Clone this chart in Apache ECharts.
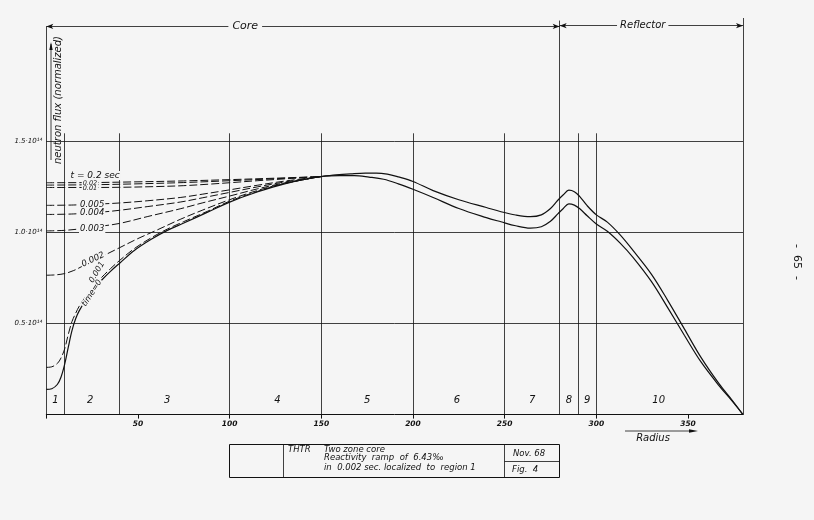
<!DOCTYPE html>
<html>
<head>
<meta charset="utf-8">
<script src="https://cdn.jsdelivr.net/npm/echarts@6/dist/echarts.min.js"></script>
<style>
  html, body { margin: 0; padding: 0; background: #f5f5f5; }
  #chart { width: 814px; height: 520px; }
</style>
</head>
<body>
<div id="chart"></div>
<script>
// radius in cm, flux in units of 10^14 (normalized)
const fluxTime0 = [[0,0.138],[3,0.142],[6,0.165],[8,0.205],[10,0.275],[12,0.37],[14,0.46],[16,0.525],[18,0.57],[22,0.635],[26,0.69],[30,0.735],[35,0.785],[40,0.83],[48,0.9],[57,0.96],[66,1.01],[75,1.05],[88,1.11],[100,1.165],[115,1.22],[130,1.265],[150,1.305],[160,1.31],[168,1.31],[176,1.302],[184,1.29],[192,1.265],[200,1.235],[211,1.19],[225,1.13],[240,1.08],[248,1.057],[256,1.035],[264,1.022],[270,1.03],[275,1.06],[279,1.1],[282,1.13],[285,1.155],[288,1.148],[291,1.128],[295,1.09],[300,1.045],[306,1.005],[313,0.94],[320,0.862],[330,0.73],[339,0.585],[348,0.435],[357,0.29],[367,0.158],[374,0.075],[380,0]];
const fluxUpper = [[150,1.305],[158,1.314],[166,1.32],[174,1.324],[180,1.324],[186,1.318],[192,1.303],[200,1.278],[211,1.228],[225,1.178],[240,1.135],[248,1.112],[256,1.094],[264,1.085],[270,1.095],[275,1.13],[279,1.175],[282,1.205],[285,1.23],[288,1.222],[291,1.195],[295,1.145],[300,1.095],[306,1.055],[313,0.985],[320,0.9],[330,0.77],[339,0.625],[348,0.47],[357,0.315],[367,0.168],[374,0.08],[380,0]];
const flux0001 = [[0,0.259],[3,0.262],[6,0.28],[8,0.31],[10,0.36],[12,0.44],[14,0.51],[16,0.555],[18,0.595],[22,0.655],[26,0.705],[30,0.75],[35,0.8],[40,0.845],[48,0.91],[57,0.968],[66,1.017],[75,1.058],[88,1.115],[100,1.17],[115,1.223],[130,1.267],[150,1.305]];
const flux0002 = [[0,0.764],[5,0.766],[10,0.773],[15,0.79],[20,0.815],[30,0.865],[40,0.915],[50,0.965],[60,1.01],[73,1.07],[85,1.12],[100,1.178],[115,1.228],[130,1.268],[150,1.305]];
const flux0003 = [[0,1.007],[10,1.01],[20,1.02],[30,1.033],[40,1.048],[55,1.085],[73,1.128],[85,1.16],[100,1.198],[115,1.237],[130,1.27],[150,1.305]];
const flux0004 = [[0,1.097],[15,1.1],[30,1.11],[40,1.12],[55,1.14],[73,1.165],[85,1.188],[100,1.218],[115,1.248],[130,1.275],[150,1.305]];
const flux0005 = [[0,1.147],[15,1.149],[30,1.155],[40,1.16],[55,1.172],[73,1.19],[85,1.208],[100,1.232],[115,1.257],[130,1.28],[150,1.305]];
const flux001 = [[0,1.245],[20,1.245],[40,1.246],[60,1.25],[75,1.255],[90,1.264],[100,1.271],[115,1.282],[130,1.292],[150,1.305]];
const flux002 = [[0,1.258],[25,1.26],[50,1.265],[75,1.272],[100,1.282],[125,1.293],[150,1.305]];
const flux02 = [[0,1.271],[25,1.272],[50,1.276],[75,1.281],[100,1.288],[125,1.296],[150,1.305]];

const regionEdges = [10, 40, 100, 150, 200, 250, 280, 290, 300];
const regionNames = ['1','2','3','4','5','6','7','8','9','10'];
const regionMid = [5, 24, 66, 126, 175, 224, 265, 285, 295, 334];
const fluxGrid = [0.5, 1.0, 1.5];
const coreEnd = 280, reflectorEnd = 380;

const curveTags = ['t = 0.2 sec', '0.02', '0.01', '0.005', '0.004', '0.003', '0.002', '0.001', 'time=0'];

// placement of the hand-lettered annotations (data units)
const tagAt = [[26.6,1.31],[23.8,1.266],[23.8,1.24],[25,1.148],[25,1.104],[25,1.019],[25.5,0.85],[27.6,0.78],[24.9,0.666]];
const tagTilt = [0, 0, 0, 0, 0, 0, 25, 60, 57];
const tagSize = [9, 6.5, 6.5, 8.5, 8.5, 8.5, 8.5, 8, 8];

const INK = '#111';
const BG = '#f5f5f5';
const FONT = '"DejaVu Sans", sans-serif';
const yTop = 2.174;
const dimY = 2.128;

function curve(name, data, dashed, width) {
  return {
    name, type: 'line', data, symbol: 'none', smooth: 0.35, silent: true, z: 3,
    lineStyle: { color: INK, width: width || 1, type: dashed ? [8, 3] : 'solid' }
  };
}

const frameLines = [];
fluxGrid.forEach(v => frameLines.push([{ coord: [0, v] }, { coord: [reflectorEnd, v] }]));
regionEdges.forEach(e => frameLines.push([{ coord: [e, 0] }, { coord: [e, e === coreEnd ? 2.16 : 1.542] }]));
frameLines.push([{ coord: [0, 0] }, { coord: [0, dimY] }]);
frameLines.push([{ coord: [reflectorEnd, 0] }, { coord: [reflectorEnd, yTop] }]);
frameLines.push([{ coord: [0, dimY], symbol: 'arrow' }, { coord: [coreEnd, dimY], symbol: 'arrow' }]);
frameLines.push([{ coord: [coreEnd, dimY + 0.004], symbol: 'arrow' }, { coord: [reflectorEnd, dimY + 0.004], symbol: 'arrow' }]);

const timeSeries = curve('time=0', fluxTime0, false, 1.2);
timeSeries.markLine = {
  silent: true, symbol: ['none', 'none'], symbolSize: [4, 7], animation: false,
  label: { show: false },
  lineStyle: { color: INK, width: 0.8, type: 'solid', opacity: 1 },
  data: frameLines
};

const tagLabel = (text, size, extra) => Object.assign({
  show: true, formatter: text, fontSize: size, color: INK, fontFamily: FONT, fontStyle: 'italic',
  backgroundColor: BG, padding: [0, 1]
}, extra || {});

const tagData = curveTags.map((t, i) => ({
  value: tagAt[i], label: tagLabel(t, tagSize[i], { rotate: tagTilt[i] })
}));
tagData.push({ value: [108.5, dimY], label: tagLabel('Core', 11, { padding: [0, 4] }) });
tagData.push({ value: [325.3, dimY + 0.004], label: tagLabel('Reflector', 10, { padding: [0, 3] }) });
regionNames.forEach((n, i) => tagData.push({
  value: [regionMid[i], 0.08], label: tagLabel(n, 10, { backgroundColor: 'transparent' })
}));

const option = {
  backgroundColor: BG,
  animation: false,
  grid: { left: 46.3, top: 18, width: 696.7, height: 396.6 },
  xAxis: {
    type: 'value', min: 0, max: reflectorEnd, interval: 50,
    axisLine: { show: true, lineStyle: { color: INK, width: 1 } },
    axisTick: { show: true, length: 4, lineStyle: { color: INK } },
    axisLabel: {
      color: INK, fontFamily: FONT, fontStyle: 'italic', fontWeight: 'bold', fontSize: 7.5, margin: 5,
      showMaxLabel: false,
      formatter: v => (v === 0 || v === reflectorEnd ? '' : String(v))
    },
    splitLine: { show: false }
  },
  yAxis: {
    type: 'value', min: 0, max: yTop, interval: 0.5,
    axisLine: { show: false },
    axisTick: { show: false },
    axisLabel: {
      color: INK, fontFamily: FONT, fontStyle: 'italic', fontSize: 7, margin: 4,
      formatter: v => (fluxGrid.indexOf(v) >= 0 ? v.toFixed(1) + '·10¹⁴' : '')
    },
    splitLine: { show: false }
  },
  series: [
    timeSeries,
    curve('upper', fluxUpper, false, 1.2),
    curve('0.001', flux0001, true),
    curve('0.002', flux0002, true),
    curve('0.003', flux0003, true),
    curve('0.004', flux0004, true),
    curve('0.005', flux0005, true),
    curve('0.01', flux001, true),
    curve('0.02', flux002, true),
    curve('0.2', flux02, true),
    {
      type: 'scatter', symbolSize: 0, silent: true, z: 5, data: tagData,
      itemStyle: { opacity: 1 },
      label: { show: true, position: 'inside' }
    }
  ],
  graphic: [
    // y-axis name with arrow
    { type: 'line', shape: { x1: 51, y1: 160, x2: 51, y2: 44 }, style: { stroke: INK, lineWidth: 0.8 } },
    { type: 'polygon', shape: { points: [[51, 42], [49.3, 50], [52.7, 50]] }, style: { fill: INK } },
    { type: 'text', x: 58, y: 100, rotation: Math.PI / 2,
      style: { text: 'neutron flux (normalized)', font: 'italic 10px ' + FONT, fill: INK, align: 'center', verticalAlign: 'middle' } },
    // radius label with arrow
    { type: 'line', shape: { x1: 625, y1: 431, x2: 693, y2: 431 }, style: { stroke: INK, lineWidth: 0.8 } },
    { type: 'polygon', shape: { points: [[698, 431], [689, 429.3], [689, 432.7]] }, style: { fill: INK } },
    { type: 'text', x: 653, y: 438,
      style: { text: 'Radius', font: 'italic 10px ' + FONT, fill: INK, align: 'center', verticalAlign: 'middle' } },
    // title block
    { type: 'rect', shape: { x: 229.5, y: 444.5, width: 330, height: 33 }, style: { fill: 'none', stroke: INK, lineWidth: 1 } },
    { type: 'line', shape: { x1: 283.5, y1: 444.5, x2: 283.5, y2: 477.5 }, style: { stroke: INK, lineWidth: 0.8 } },
    { type: 'line', shape: { x1: 504.5, y1: 444.5, x2: 504.5, y2: 477.5 }, style: { stroke: INK, lineWidth: 0.8 } },
    { type: 'line', shape: { x1: 504.5, y1: 461.5, x2: 559.5, y2: 461.5 }, style: { stroke: INK, lineWidth: 0.8 } },
    { type: 'text', x: 288, y: 450, style: { text: 'THTR', font: 'italic 8.5px ' + FONT, fill: INK, verticalAlign: 'middle' } },
    { type: 'text', x: 324, y: 450, style: { text: 'Two zone core', font: 'italic 8.5px ' + FONT, fill: INK, verticalAlign: 'middle' } },
    { type: 'text', x: 324, y: 458, style: { text: 'Reactivity  ramp  of  6.43‰', font: 'italic 8.5px ' + FONT, fill: INK, verticalAlign: 'middle' } },
    { type: 'text', x: 324, y: 468, style: { text: 'in  0.002 sec. localized  to  region 1', font: 'italic 8.5px ' + FONT, fill: INK, verticalAlign: 'middle' } },
    { type: 'text', x: 513, y: 454, style: { text: 'Nov. 68', font: 'italic 8.5px ' + FONT, fill: INK, verticalAlign: 'middle' } },
    { type: 'text', x: 512, y: 470, style: { text: 'Fig.  4', font: 'italic 8.5px ' + FONT, fill: INK, verticalAlign: 'middle' } },
    // page number
    { type: 'text', x: 797, y: 262, rotation: -Math.PI / 2,
      style: { text: '-  65  -', font: '11px ' + FONT, fill: INK, align: 'center', verticalAlign: 'middle' } }
  ]
};

const chart = echarts.init(document.getElementById('chart'));
chart.setOption(option);
window.addEventListener('resize', () => chart.resize());
</script>
</body>
</html>
